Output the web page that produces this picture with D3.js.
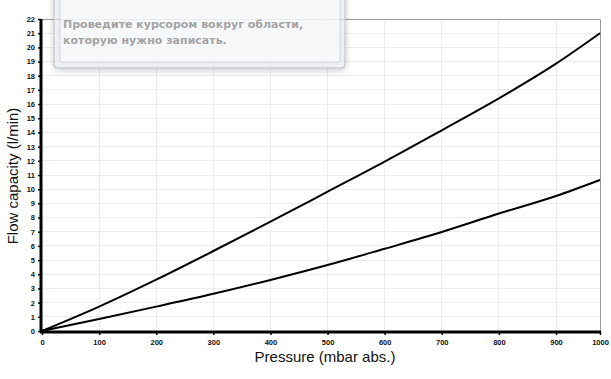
<!DOCTYPE html>
<html><head><meta charset="utf-8">
<script src="https://cdn.jsdelivr.net/npm/d3@7"></script>
<style>body{margin:0;background:#fff;}svg{display:block;}</style>
</head><body>
<svg id="c" width="611" height="379"></svg>
<script>
const pressure = [0,100,200,300,400,500,600,700,800,900,1000];
const flowUpper = [0,1.72,3.62,5.64,7.71,9.82,11.94,14.15,16.4,18.85,21.0];
const flowLower = [0,0.85,1.72,2.62,3.6,4.65,5.8,6.98,8.28,9.52,10.65];
const xTicks = [0,100,200,300,400,500,600,700,800,900,1000];
const yTicks = d3.range(0,23);
const xTitle = "Pressure (mbar abs.)";
const yTitle = "Flow capacity (l/min)";
const overlayLines = ["Проведите курсором вокруг области,","которую нужно записать."];

const svg = d3.select("#c");
const x = d3.scaleLinear().domain([0,900,1000]).range([42,556,600]);
const y = d3.scaleLinear().domain([0,22]).range([331,19]);

// grid
svg.append("g").selectAll("line").data(yTicks.slice(1)).join("line")
  .attr("x1",42).attr("x2",600).attr("y1",d=>y(d)).attr("y2",d=>y(d))
  .attr("stroke","#ececec").attr("stroke-width",1).attr("shape-rendering","crispEdges");
svg.append("g").selectAll("line").data(xTicks.slice(1)).join("line")
  .attr("x1",d=>x(d)).attr("x2",d=>x(d)).attr("y1",19).attr("y2",331)
  .attr("stroke","#ececec").attr("stroke-width",1).attr("shape-rendering","crispEdges");
// top & right border
svg.append("line").attr("x1",42).attr("x2",600.5).attr("y1",19.5).attr("y2",19.5).attr("stroke","#9a9a9a");
svg.append("line").attr("x1",600.5).attr("x2",600.5).attr("y1",19.5).attr("y2",331).attr("stroke","#9a9a9a");

// axes
const yAxis = d3.axisLeft(y).tickValues(yTicks).tickSize(3).tickPadding(3).tickFormat(d3.format("d"));
const gy = svg.append("g").attr("transform","translate(41,0)").call(yAxis);
const xAxis = d3.axisBottom(x).tickValues(xTicks).tickSize(3).tickPadding(3).tickFormat(d3.format("d"));
const gx = svg.append("g").attr("transform","translate(0,332)").call(xAxis);
[gy,gx].forEach(g=>{
  g.select(".domain").remove();
  g.selectAll("text").attr("font-family","Liberation Sans, Arial, sans-serif")
   .attr("font-weight","bold").attr("font-size","7.5px").attr("fill","#111");
  g.selectAll(".tick line").attr("stroke","#000").attr("stroke-width",1.5);
});
gx.selectAll("text").attr("dy","0.9em");
svg.append("line").attr("x1",41).attr("x2",41).attr("y1",19).attr("y2",333).attr("stroke","#000").attr("stroke-width",3);
svg.append("line").attr("x1",40).attr("x2",601).attr("y1",332).attr("y2",332).attr("stroke","#000").attr("stroke-width",3);

// lines
const line = d3.line().x((d,i)=>x(pressure[i])).y(d=>y(d)).curve(d3.curveMonotoneX);
[flowUpper,flowLower].forEach(s=>{
  svg.append("path").datum(s).attr("d",line).attr("fill","none")
    .attr("stroke","#000").attr("stroke-width",2);
});

// titles
svg.append("text").attr("x",325).attr("y",362).attr("text-anchor","middle")
  .attr("font-family","Liberation Sans, Arial, sans-serif").attr("font-size","15px").attr("fill","#111").text(xTitle);
svg.append("text").attr("transform","translate(18,176) rotate(-90)").attr("text-anchor","middle")
  .attr("font-family","Liberation Sans, Arial, sans-serif").attr("font-size","15px").attr("fill","#111").text(yTitle);

// overlay box (screen-capture hint)
const defs = svg.append("defs");
const f = defs.append("filter").attr("id","sh").attr("x","-10%").attr("y","-20%").attr("width","120%").attr("height","160%");
f.append("feGaussianBlur").attr("in","SourceAlpha").attr("stdDeviation",3);
f.append("feOffset").attr("dx",0).attr("dy",2).attr("result","b");
f.append("feComponentTransfer").append("feFuncA").attr("type","linear").attr("slope",0.3);
const m = f.append("feMerge"); m.append("feMergeNode"); m.append("feMergeNode").attr("in","SourceGraphic");
svg.append("rect").attr("x",54).attr("y",-10).attr("width",291).attr("height",78).attr("rx",4)
  .attr("fill","#eef1f5").attr("fill-opacity",0.6).attr("stroke","#b8bcc2").attr("filter","url(#sh)");
svg.append("rect").attr("x",60).attr("y",-10).attr("width",280).attr("height",72).attr("rx",2)
  .attr("fill","#ffffff").attr("fill-opacity",0.6).attr("stroke","#d0d4da");
svg.selectAll("text.ov").data(overlayLines).join("text").attr("class","ov")
  .attr("x",63).attr("y",(d,i)=>28+i*16)
  .attr("font-family","DejaVu Sans, sans-serif").attr("font-weight","bold").attr("font-size","11px")
  .attr("fill","#a4a4a4").text(d=>d);
</script>
</body></html>
